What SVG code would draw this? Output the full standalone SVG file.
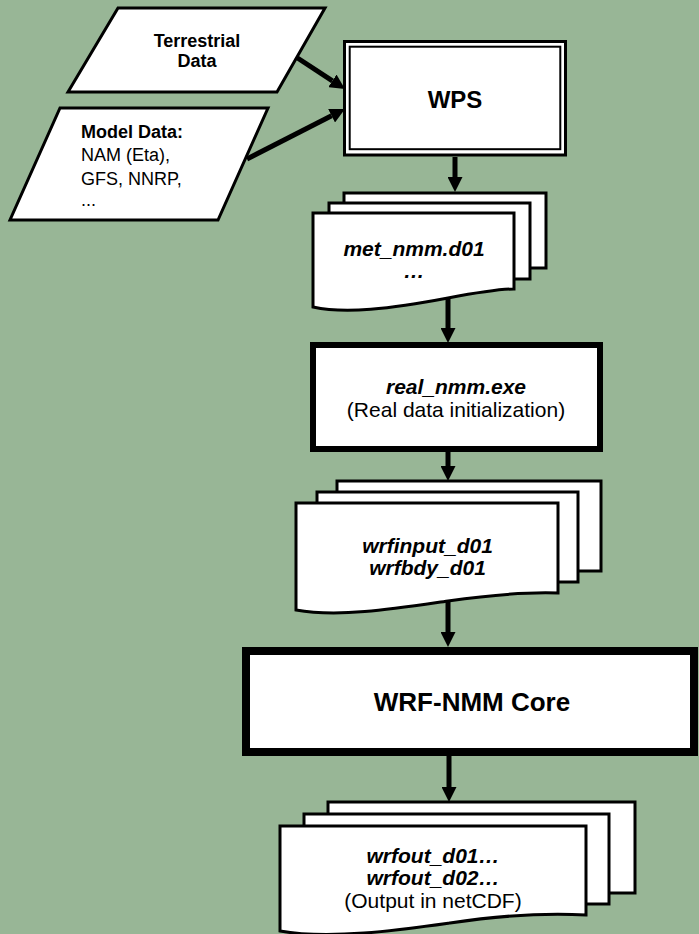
<svg xmlns="http://www.w3.org/2000/svg" width="699" height="934" viewBox="0 0 699 934">
<defs>
<marker id="ah" markerUnits="userSpaceOnUse" markerWidth="16" markerHeight="15" refX="0" refY="7.5" orient="auto">
<path d="M0,0 L15,7.5 L0,15 z" fill="#000"/>
</marker>
</defs>
<style>
.shape{fill:#fff;stroke:#000;stroke-width:3;stroke-linejoin:miter}
.conn{stroke:#000;stroke-width:5;fill:none;marker-end:url(#ah)}
text{font-family:"Liberation Sans",Arial,sans-serif;fill:#000}
.b{font-weight:bold}
.bi{font-weight:bold;font-style:italic}
.c{text-anchor:middle}
</style>
<rect x="0" y="0" width="699" height="934" fill="#98B696"/>

<g id="terrestrial">
<polygon class="shape" points="118,8 325,8 277,92 68,92"/>
<text class="b c" x="197" y="47" font-size="18">Terrestrial</text>
<text class="b c" x="197" y="67" font-size="18">Data</text>
</g>

<g id="model-data">
<polygon class="shape" points="60,108 268,108 218,220 10,220"/>
<text class="b" x="81" y="138" font-size="18">Model Data:</text>
<text x="81" y="161" font-size="18">NAM (Eta),</text>
<text x="81" y="185" font-size="18">GFS, NNRP,</text>
<text x="81" y="206" font-size="18">...</text>
</g>

<g id="wps">
<rect x="344.5" y="41.5" width="221" height="113.5" fill="#fff" stroke="#000" stroke-width="3"/>
<rect x="349.7" y="46.7" width="210.6" height="102.5" fill="none" stroke="#000" stroke-width="2"/>
<text class="b c" x="455" y="108" font-size="24">WPS</text>
</g>

<g id="met-nmm">
<rect class="shape" x="344" y="193" width="202" height="75"/>
<rect class="shape" x="329" y="203" width="201" height="76"/>
<path class="shape" d="M313,213 L514,213 L514,289 C500,289 480,292 448,298 C390,309 345,314 313,307 Z"/>
<text class="bi c" x="414" y="256" font-size="21">met_nmm.d01</text>
<text class="bi c" x="414" y="278" font-size="21">…</text>
</g>

<g id="real-nmm">
<rect x="313" y="345" width="287" height="104" fill="#fff" stroke="#000" stroke-width="6"/>
<text class="bi c" x="456" y="394" font-size="21">real_nmm.exe</text>
<text class="c" x="456" y="417" font-size="21">(Real data initialization)</text>
</g>

<g id="wrfinput">
<rect class="shape" x="337" y="481" width="264" height="90"/>
<rect class="shape" x="317" y="492" width="261" height="90"/>
<path class="shape" d="M296,503 L558,503 L558,593 C530,592 490,595 448,601 C400,608 340,618 296,610 Z"/>
<text class="bi c" x="427.5" y="553" font-size="21">wrfinput_d01</text>
<text class="bi c" x="427.5" y="575" font-size="21">wrfbdy_d01</text>
</g>

<g id="wrf-nmm-core">
<rect x="246" y="651" width="448" height="101" fill="#fff" stroke="#000" stroke-width="8"/>
<text class="b c" x="472" y="711" font-size="26">WRF-NMM Core</text>
</g>

<g id="wrfout">
<rect class="shape" x="328" y="802" width="307" height="91"/>
<rect class="shape" x="304" y="814" width="305" height="90"/>
<path class="shape" d="M280,826 L586,826 L586,915 C550,913 510,914 450,923 C400,930 330,940 280,931 Z"/>
<text class="bi c" x="433" y="863" font-size="21">wrfout_d01…</text>
<text class="bi c" x="433" y="885" font-size="21">wrfout_d02…</text>
<text class="c" x="433" y="908" font-size="21">(Output in netCDF)</text>
</g>

<g id="connectors">
<line class="conn" x1="296" y1="57" x2="332.4" y2="80.8"/>
<line class="conn" x1="247" y1="159" x2="331.6" y2="115.8"/>
<line class="conn" x1="455" y1="157" x2="455" y2="177"/>
<line class="conn" x1="448" y1="297" x2="448" y2="328"/>
<line class="conn" x1="448" y1="452" x2="448" y2="466"/>
<line class="conn" x1="448" y1="601" x2="448" y2="632"/>
<line class="conn" x1="449" y1="756" x2="449" y2="787"/>
</g>
</svg>
